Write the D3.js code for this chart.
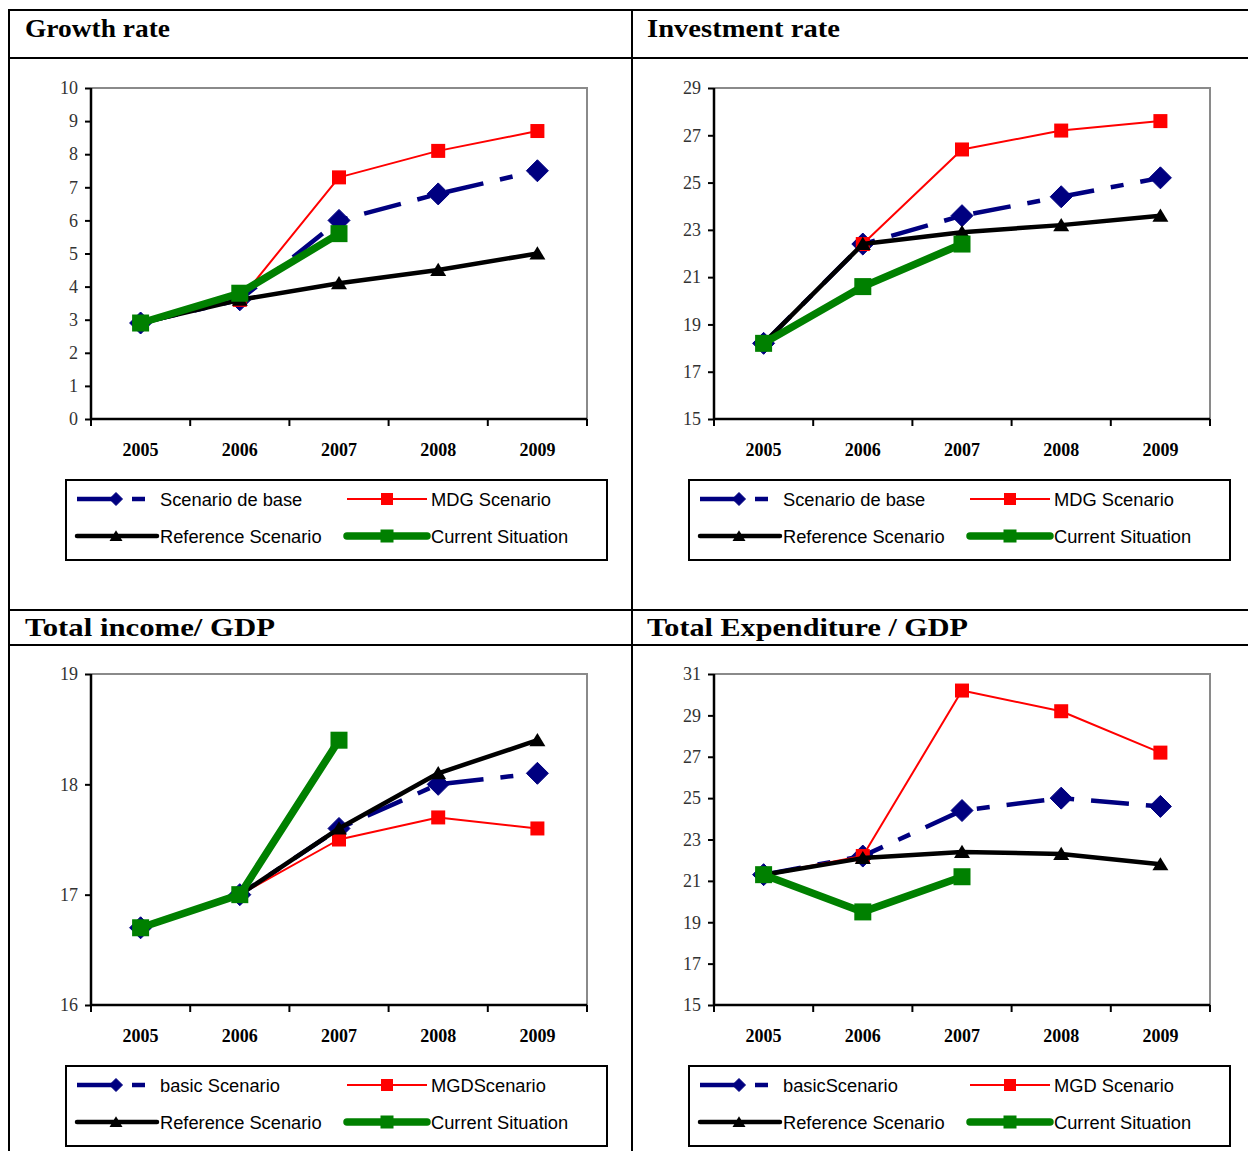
<!DOCTYPE html>
<html>
<head>
<meta charset="utf-8">
<script src="https://cdn.jsdelivr.net/npm/d3@7"></script>
<style>
  html, body { margin: 0; padding: 0; background: #fff; }
  svg { display: block; }
</style>
</head>
<body>
<svg id="chart" width="1248" height="1151"></svg>
<script>
// ---------------- data ----------------
const years = ["2005", "2006", "2007", "2008", "2009"];

const growthBase    = [2.9, 3.6, 6.0, 6.8, 7.5];
const growthMDG     = [2.9, 3.6, 7.3, 8.1, 8.7];
const growthRef     = [2.9, 3.6, 4.1, 4.5, 5.0];
const growthCurrent = [2.9, 3.8, 5.6];

const investBase    = [18.2, 22.4, 23.6, 24.4, 25.2];
const investMDG     = [18.2, 22.4, 26.4, 27.2, 27.6];
const investRef     = [18.2, 22.4, 22.9, 23.2, 23.6];
const investCurrent = [18.2, 20.6, 22.4];

const incomeBase    = [16.7, 17.0, 17.6, 18.0, 18.1];
const incomeMDG     = [16.7, 17.0, 17.5, 17.7, 17.6];
const incomeRef     = [16.7, 17.0, 17.6, 18.1, 18.4];
const incomeCurrent = [16.7, 17.0, 18.4];

const expBase    = [21.3, 22.2, 24.4, 25.0, 24.6];
const expMDG     = [21.3, 22.2, 30.2, 29.2, 27.2];
const expRef     = [21.3, 22.1, 22.4, 22.3, 21.8];
const expCurrent = [21.3, 19.5, 21.2];

const titles = ["Growth rate", "Investment rate", "Total income/ GDP", "Total Expenditure / GDP"];

const growthTicks = [0, 1, 2, 3, 4, 5, 6, 7, 8, 9, 10];
const investTicks = [15, 17, 19, 21, 23, 25, 27, 29];
const incomeTicks = [16, 17, 18, 19];
const expTicks    = [15, 17, 19, 21, 23, 25, 27, 29, 31];

const legendLabels1 = ["Scenario de base", "MDG Scenario", "Reference Scenario", "Current Situation"];
const legendLabels2 = ["Scenario de base", "MDG Scenario", "Reference Scenario", "Current Situation"];
const legendLabels3 = ["basic Scenario", "MGDScenario", "Reference Scenario", "Current Situation"];
const legendLabels4 = ["basicScenario", "MGD Scenario", "Reference Scenario", "Current Situation"];

// ---------------- styles ----------------
const seriesStyles = [
  { color: "#000080", width: 4.5, dash: "38,17,13,17", marker: "diamond", size: 11 },
  { color: "#ff0000", width: 2,   dash: null,          marker: "square",  size: 7 },
  { color: "#000000", width: 4.5, dash: null,          marker: "triangle", size: 8 },
  { color: "#008000", width: 7.5, dash: null,          marker: "square",  size: 8.5 }
];

const SERIF = "'Liberation Serif', 'DejaVu Serif', serif";
const SANS = "'Liberation Sans', Arial, sans-serif";

const panels = [
  { title: titles[0], titleW: 145, tx: 25,  ty: 37,  px: 91,  py: 88,  domain: [0, 10],  ticks: growthTicks,
    series: [growthBase, growthMDG, growthRef, growthCurrent], legend: legendLabels1 },
  { title: titles[1], titleW: 193, tx: 647, ty: 37,  px: 714, py: 88,  domain: [15, 29], ticks: investTicks,
    series: [investBase, investMDG, investRef, investCurrent], legend: legendLabels2 },
  { title: titles[2], titleW: 250, tx: 25,  ty: 636, px: 91,  py: 674, domain: [16, 19], ticks: incomeTicks,
    series: [incomeBase, incomeMDG, incomeRef, incomeCurrent], legend: legendLabels3 },
  { title: titles[3], titleW: 321, tx: 647, ty: 636, px: 714, py: 674, domain: [15, 31], ticks: expTicks,
    series: [expBase, expMDG, expRef, expCurrent], legend: legendLabels4 }
];

const PW = 496, PH = 331;

const svg = d3.select("#chart");

// ---------------- table frame ----------------
const frame = svg.append("g").attr("stroke", "#000").attr("stroke-width", 2);
[10, 58, 610, 645].forEach(y =>
  frame.append("line").attr("x1", 9).attr("x2", 1248).attr("y1", y).attr("y2", y));
[9, 632].forEach(x =>
  frame.append("line").attr("x1", x).attr("x2", x).attr("y1", 9).attr("y2", 1151));

// ---------------- markers ----------------
function drawMarker(g, type, x, y, s, color) {
  if (type === "diamond") {
    g.append("path")
      .attr("d", `M${x},${y - s}L${x + s},${y}L${x},${y + s}L${x - s},${y}Z`)
      .attr("fill", color).attr("stroke", color).attr("stroke-width", 1);
  } else if (type === "square") {
    g.append("rect").attr("x", x - s).attr("y", y - s)
      .attr("width", 2 * s).attr("height", 2 * s).attr("fill", color);
  } else if (type === "triangle") {
    g.append("path")
      .attr("d", `M${x},${y - s * 0.9}L${x + s},${y + s * 0.75}L${x - s},${y + s * 0.75}Z`)
      .attr("fill", color);
  }
}

// ---------------- panels ----------------
panels.forEach(p => {
  // title
  svg.append("text")
    .attr("x", p.tx).attr("y", p.ty)
    .attr("textLength", p.titleW)
    .attr("lengthAdjust", "spacingAndGlyphs")
    .style("font-family", SERIF)
    .style("font-weight", "bold")
    .style("font-size", "26px")
    .attr("fill", "#000")
    .text(p.title);

  const g = svg.append("g").attr("transform", `translate(${p.px},${p.py})`);

  const x = d3.scaleBand().domain(years).range([0, PW]).padding(0);
  const y = d3.scaleLinear().domain(p.domain).range([PH, 0]);

  // grey frame top & right
  g.append("path")
    .attr("d", `M0,0H${PW}V${PH}`)
    .attr("fill", "none").attr("stroke", "#8a8a8a").attr("stroke-width", 2);

  // y axis
  const yAxis = g.append("g")
    .call(d3.axisLeft(y).tickValues(p.ticks).tickFormat(d3.format("d")).tickSize(6).tickPadding(7));
  yAxis.attr("font-family", null).attr("font-size", null);
  yAxis.select(".domain").attr("stroke", "#000").attr("stroke-width", 2.5).attr("d", `M0,0V${PH}`);
  yAxis.selectAll(".tick line").attr("stroke", "#000").attr("stroke-width", 2);
  yAxis.selectAll(".tick text")
    .style("font-family", SERIF)
    .style("font-size", "18px").attr("fill", "#333");

  // x axis: labels at band centers, ticks at band boundaries
  const xAxis = g.append("g").attr("transform", `translate(0,${PH})`)
    .call(d3.axisBottom(x).tickSize(0).tickPadding(24));
  xAxis.attr("font-family", null).attr("font-size", null);
  xAxis.select(".domain").attr("stroke", "#000").attr("stroke-width", 2.5).attr("d", `M0,0H${PW}`);
  xAxis.selectAll(".tick text")
    .style("font-family", SERIF)
    .style("font-weight", "bold")
    .style("font-size", "18px").attr("fill", "#000");
  const bounds = years.map(d => x(d)).concat([x(years[years.length - 1]) + x.bandwidth()]);
  xAxis.selectAll("line.bt").data(bounds).enter().append("line")
    .attr("class", "bt")
    .attr("x1", d => d).attr("x2", d => d)
    .attr("y1", 0).attr("y2", 7)
    .attr("stroke", "#000").attr("stroke-width", 2);

  const cx = d => x(d) + x.bandwidth() / 2;

  // series
  p.series.forEach((vals, si) => {
    const st = seriesStyles[si];
    const pts = vals.map((v, i) => [cx(years[i]), y(v)]);
    const line = d3.line();
    const path = g.append("path")
      .attr("d", line(pts))
      .attr("fill", "none")
      .attr("stroke", st.color)
      .attr("stroke-width", st.width)
      .attr("stroke-linejoin", "round");
    if (st.dash) path.attr("stroke-dasharray", st.dash);
    pts.forEach(pt => drawMarker(g, st.marker, pt[0], pt[1], st.size, st.color));
  });

  // legend
  const lg = svg.append("g").attr("transform", `translate(${p.px - 25},${p.py + 392})`);
  lg.append("rect").attr("x", 0).attr("y", 0).attr("width", 541).attr("height", 80)
    .attr("fill", "#fff").attr("stroke", "#000").attr("stroke-width", 2);

  const items = [
    { lx1: 11, lx2: 80, mx: 50, tx: 94, ty: 19 },
    { lx1: 281, lx2: 361, mx: 321, tx: 365, ty: 19 },
    { lx1: 11, lx2: 91, mx: 50, tx: 94, ty: 56 },
    { lx1: 281, lx2: 361, mx: 321, tx: 365, ty: 56 }
  ];
  const legendMarkerSize = [6.5, 6, 6.5, 6.5];
  items.forEach((it, i) => {
    const st = seriesStyles[i];
    const ln = lg.append("line")
      .attr("x1", it.lx1).attr("x2", it.lx2).attr("y1", it.ty).attr("y2", it.ty)
      .attr("stroke", st.color).attr("stroke-width", st.width)
      .attr("stroke-linecap", i >= 2 ? "round" : "butt");
    if (st.dash) ln.attr("stroke-dasharray", st.dash);
    drawMarker(lg, st.marker, it.mx, it.ty, legendMarkerSize[i], st.color);
    lg.append("text")
      .attr("x", it.tx).attr("y", it.ty + 1).attr("dy", "0.35em")
      .style("font-family", SANS)
      .style("font-size", "18.3px").attr("fill", "#000")
      .text(p.legend[i]);
  });
});
</script>
</body>
</html>
